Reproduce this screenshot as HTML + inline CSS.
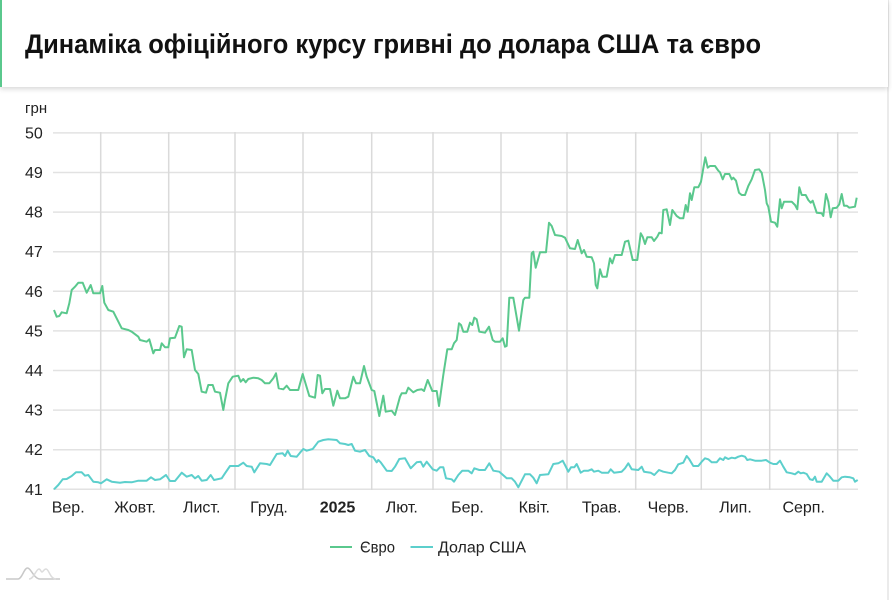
<!DOCTYPE html>
<html>
<head>
<meta charset="utf-8">
<style>
  html,body{margin:0;padding:0;background:#fff;}
  body{width:892px;height:600px;overflow:hidden;position:relative;font-family:"Liberation Sans","DejaVu Sans",sans-serif;}
  .card{position:absolute;left:0;top:0;width:888px;height:87px;background:#fff;box-shadow:0 2px 5px rgba(0,0,0,0.16);border-left:2px solid #5ac88d;box-sizing:border-box;}
  .rline{position:absolute;left:887px;top:0;width:2px;height:600px;background:#ebebeb;}
  svg{position:absolute;left:0;top:0;}
</style>
</head>
<body>
<div class="rline"></div>
<div class="card"></div>
<svg width="892" height="600" viewBox="0 0 892 600" xmlns="http://www.w3.org/2000/svg">
  <text x="25" y="53" font-family="Liberation Sans, DejaVu Sans, sans-serif" font-weight="bold" font-size="27" fill="#111" textLength="736" lengthAdjust="spacingAndGlyphs">Динаміка офіційного курсу гривні до долара США та євро</text>

  <text x="25" y="113" font-family="Liberation Sans, sans-serif" font-size="15" fill="#222">грн</text>

  <!-- horizontal grid -->
  <g stroke="#e2e2e2" stroke-width="1.5">
    <line x1="53" y1="132.9" x2="858" y2="132.9"/>
    <line x1="53" y1="172.5" x2="858" y2="172.5"/>
    <line x1="53" y1="212.1" x2="858" y2="212.1"/>
    <line x1="53" y1="251.7" x2="858" y2="251.7"/>
    <line x1="53" y1="291.3" x2="858" y2="291.3"/>
    <line x1="53" y1="330.9" x2="858" y2="330.9"/>
    <line x1="53" y1="370.5" x2="858" y2="370.5"/>
    <line x1="53" y1="410.1" x2="858" y2="410.1"/>
    <line x1="53" y1="449.7" x2="858" y2="449.7"/>
    <line x1="53" y1="489.3" x2="858" y2="489.3"/>
  </g>
  <!-- vertical grid -->
  <g stroke="#dadada" stroke-width="1.5">
    <line x1="100.7" y1="132" x2="100.7" y2="490"/>
    <line x1="168.7" y1="132" x2="168.7" y2="490"/>
    <line x1="235" y1="132" x2="235" y2="490"/>
    <line x1="303" y1="132" x2="303" y2="490"/>
    <line x1="371.7" y1="132" x2="371.7" y2="490"/>
    <line x1="433" y1="132" x2="433" y2="490"/>
    <line x1="501" y1="132" x2="501" y2="490"/>
    <line x1="567" y1="132" x2="567" y2="490"/>
    <line x1="635.7" y1="132" x2="635.7" y2="490"/>
    <line x1="701.3" y1="132" x2="701.3" y2="490"/>
    <line x1="769.7" y1="132" x2="769.7" y2="490"/>
    <line x1="837.7" y1="132" x2="837.7" y2="490"/>
  </g>

  <!-- y labels -->
  <g font-family="Liberation Sans, sans-serif" font-size="16" fill="#222">
    <text x="25" y="138.5">50</text>
    <text x="25" y="178">49</text>
    <text x="25" y="217.6">48</text>
    <text x="25" y="257.2">47</text>
    <text x="25" y="296.8">46</text>
    <text x="25" y="336.4">45</text>
    <text x="25" y="376">44</text>
    <text x="25" y="415.6">43</text>
    <text x="25" y="455.2">42</text>
    <text x="25" y="494.8">41</text>
  </g>
  <!-- x labels -->
  <g font-family="Liberation Sans, sans-serif" font-size="16" fill="#222" text-anchor="middle">
    <text x="68.2" y="512.5">Вер.</text>
    <text x="135" y="512.5">Жовт.</text>
    <text x="201.7" y="512.5">Лист.</text>
    <text x="269" y="512.5">Груд.</text>
    <text x="337.5" y="512.5" font-weight="bold">2025</text>
    <text x="401.8" y="512.5">Лют.</text>
    <text x="467.5" y="512.5">Бер.</text>
    <text x="534.3" y="512.5">Квіт.</text>
    <text x="601.7" y="512.5">Трав.</text>
    <text x="668.3" y="512.5">Черв.</text>
    <text x="735.5" y="512.5">Лип.</text>
    <text x="803.7" y="512.5">Серп.</text>
  </g>

  <!-- Dollar series -->
  <polyline fill="none" stroke="#5ccfcc" stroke-width="2" stroke-linejoin="round" points="
54,489.3 58.3,485 62.7,479.3 66.7,479 71.7,476 76,472.3 81.7,472.3 85,475.7 88.3,475 93.3,481.7 98.3,482.3 101,483.3 106.7,479.3 111.7,481.7 120,482.7 125,482 131.7,482.3 138.3,480.7 146.7,480.7 151,477.3 155,480 160,479.3 166,475 170,481 175,481 181.7,472.7 186.7,476.7 191.7,475 195,478.3 198.3,476 201.7,480.7 206.7,480 210.7,475 214,480 221.7,478.3 225,473.3 230,466 238.3,466 243.3,462.7 246.7,466 251.7,466.7 254.3,472.3 260,463.3 266.7,464 270,465 276.7,454 282.7,453.3 285,456 287.7,450.7 290.7,456 296.7,456.7 300,452.7 303.3,449 306.7,450.7 312.7,449 318.3,441.7 323.3,440 328.3,439.3 336.7,440 340,443.3 345,444 348.3,445 351.7,444 355,450.7 360,451.7 365,450 369.3,456 373.3,457.3 376.7,462.3 378.3,460 380.7,462.3 386.7,470.7 391.7,471 395,466.7 399.3,459 405,458.3 410.7,468.3 416.7,462.3 420.7,461.7 423.3,466.7 426.7,461.7 432.7,469.3 436.7,470.7 440,467.3 443.3,467.3 446,478.3 451.7,479.3 454,481.7 458.3,475 462.3,470.7 468.3,470.7 471.7,473.3 474.3,468.3 479.3,470 485,470 489.3,463.3 493.3,470.7 499.3,471.7 506.7,478.3 511.7,478.3 515,481.7 518.3,487.3 521.7,480.7 525,474.3 530,474.3 533.3,477.7 536.7,483.3 540,475 548.3,474.3 553.3,464 558.3,463.3 562.7,460.7 565,465 568.3,471.7 571,467.3 574.3,467.3 576.7,464 580.7,472.7 584,470.7 588.3,470.7 591.7,469.3 594,471.7 598.3,470.7 601.7,472.7 608.3,472.7 610.7,469.3 614,472.7 621.7,471.7 625,468.3 628.3,463.3 631.7,469.3 638.3,470 641.7,466.7 644,471.7 650.7,472.7 654.3,475 659,470 663.3,471.7 668.3,472.7 671.7,473.3 675,470 678.3,464.3 683.3,462.7 686.7,456 689.3,459.3 693.3,466 698.3,466 701.7,461.7 705,458.3 708.3,459.3 711.7,462.3 716.7,462.3 720,458.3 723.3,460 725,457.3 728.3,459 731.7,457.7 735,458.3 738.3,456.7 741.7,455.7 745,456.7 747.3,460 750,459.3 755,460.7 761.7,460.7 766,460 770,462.7 773.3,464 776.7,464 780,460.7 783.3,466.7 786.7,472.3 791.7,473.3 795,474.3 798.3,471.7 800.7,473.3 803.3,472.7 806.7,474 810,479.3 812.7,480 815,476.7 816.7,481.7 821.7,481.7 826.7,473.3 830,476.7 833.3,480.7 838.3,480.7 841.7,477.3 845,476.7 850,477.3 853.3,478.3 855,481.7 857.7,480"/>

  <!-- Euro series -->
  <polyline fill="none" stroke="#5ac88d" stroke-width="2" stroke-linejoin="round" points="
54,310 56.7,316.7 59.3,316 61.7,312.3 66.7,313.3 69.3,303.3 71.7,290 75,286.7 78.3,282.7 82.7,282.7 86.7,292.7 90.7,285 93.3,293.3 100,293.3 102.3,286 104.3,302.7 108.3,310 113.3,311.7 121.7,328.3 128.3,330 131.7,331.7 138.3,336.7 140,340 146.7,341.7 149.3,339.3 153.3,353.3 155,350 160,350 161.7,343.3 165,347.3 168.3,347.3 170,338.3 175,337.7 179.3,326 181.7,326.7 184,357.3 186.7,349.3 191.7,350 195,370 198.3,374 201.7,391.7 206,392.7 208.3,385 212.7,385 215,391.7 220,392.7 223.3,410 225,400 228.3,383.3 232.7,376.7 238.3,375.7 240.7,381.7 243.3,379 245.7,382.3 248.3,379 253.3,377.7 258.3,378.3 261.7,380 265,383.3 269.3,383.3 273.3,378.3 276,373.3 278.7,388.3 283.3,389.3 286.7,385.7 290,390 298.3,390 302.7,374 306,385 309.3,396 315,397.7 317.7,375 320,375.7 322.3,393.3 325,389 330,389 333.3,405.7 337.3,390.7 340,398.3 345,398.3 348.3,396.7 353.3,376.7 356,383.3 360,383.3 364,366 366.7,376.7 371.7,390 374.3,391 379.3,416 383.3,395.7 385.7,411.7 391.7,410.7 395,415 400,396.7 401.7,393.3 406,393.3 408.3,387.7 413.3,392.3 417.3,390 421.7,389.3 424,391 427.7,380 432.3,391 436.7,391 439,406 443.3,375 447.3,349.3 451.7,349.3 454,343.3 456.7,340 459,323.3 461,325 463.3,331.7 467.3,331.7 470,322.7 472.3,325 474.3,317.7 476.7,319.3 479.3,331.7 485,332.7 489,326.7 492.7,340 495,341.7 500,341.7 502.7,338.3 505,346.7 506.7,346 509.3,297.7 513.3,297.7 516,313.3 519,330.7 523.3,300 525,297.7 529.3,297.7 531.7,253.3 533.3,251.7 535.7,267.7 540,252.3 546,252.3 549,222.7 551.7,226 555,235 561.7,236 565,237.7 570,248.3 575,249 577.7,240 581.7,253.3 584,250 586.7,256.7 591.7,257.3 594,263.3 595.7,285 597.3,288.3 600,269.3 602.3,276.7 606.7,276.7 610,258.3 612.3,263.3 615,255 621.7,255 625,241.7 628.3,240.7 632.7,260 637.3,260 640.7,233.3 642.7,236.7 645,244 647.3,237.3 651.7,237.3 654,241 657.3,236.7 659.3,232.7 661.7,233.3 663.3,210 666.7,209.3 670,225 672.3,210 676.7,216 680,218.3 683.3,218.3 685.7,205 687.7,211.7 690,193.3 691.7,200 694.3,187.3 698.3,187.3 701,181.7 703.3,168.3 705.3,157.3 707.7,167.7 710,166 715,166 718.3,170.7 720,172.3 722.7,179.3 725,174 729.3,174 731.7,179.3 733.3,177.7 736,180.7 739,192.7 741.7,195 745,195 748.3,186 751.7,179.3 755,170 759,169.3 761.7,172.7 765,190 766.7,203.3 768.3,206.7 771,221.7 775,222.7 777.3,226.7 780,199.3 781.7,208.3 784,201.7 791.7,201.7 795,205 797.3,209.3 799.3,187.3 801.7,195 805.7,195 808.3,200 810.7,202.7 812.7,200.7 816.7,212.7 821.7,213.3 823.3,216 826,194 828.3,201.7 830.7,217.3 832.7,208.3 836.7,207.7 839.3,204.3 841.7,194 844,205.7 846.7,205.7 849.3,207.7 855,206.7 856.7,197.7"/>

  <!-- legend -->
  <line x1="330" y1="547" x2="352" y2="547" stroke="#5ac88d" stroke-width="2"/>
  <text x="360" y="552.5" font-family="Liberation Sans, sans-serif" font-size="15.5" fill="#222" textLength="35" lengthAdjust="spacingAndGlyphs">Євро</text>
  <line x1="410.5" y1="547" x2="433" y2="547" stroke="#5ccfcc" stroke-width="2"/>
  <text x="438" y="552.5" font-family="Liberation Sans, sans-serif" font-size="15.5" fill="#222" textLength="88" lengthAdjust="spacingAndGlyphs">Долар США</text>

  <!-- logo -->
  <g fill="none" stroke-width="1.5">
    <path d="M6 579 L18 579 C22 579 24 568 27.5 568 C31 568 34 579 40 579 L60 579" stroke="#c8c8c8"/>
    <path d="M29 579 C34 579 36 569 39 569 C40.5 569 41 572 42 572 C43 572 44 569 46 569 C49 569 50 579 56 579" stroke="#dcdcdc"/>
  </g>
</svg>
</body>
</html>
